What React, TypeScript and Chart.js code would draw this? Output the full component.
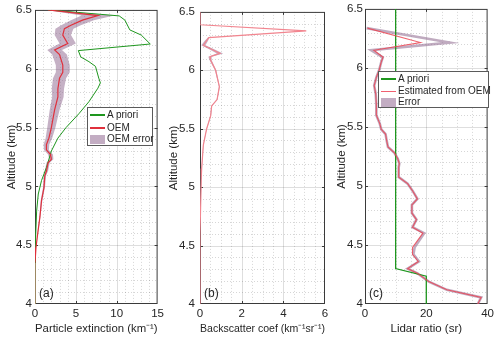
import React, { useEffect, useRef } from "react";
import { Chart, registerables } from "chart.js";
Chart.register(...registerables);

const FONT = "'Liberation Sans', Arial, Helvetica, sans-serif";
const TEXT = "#262626";
const GREEN = "#1e961e";
const RED = "#e0303c";
const PINK = "#f2858f";
const BAND = "rgba(140,100,140,0.5)";
const PATCH = "#c3adc3";

// ---- shared altitude axis ----
const altTicks = [4, 4.5, 5, 5.5, 6, 6.5];

// ---- panel (a): particle extinction ----
const aPrioriAlt = [6.5, 6.449, 6.413, 6.33, 6.286, 6.21, 6.154, 6.10, 6.06, 6.02, 5.92, 5.88, 5.835, 5.72, 5.62, 5.5, 5.41, 5.30, 5.16, 5.05, 4.935, 4.79, 4.51, 4.35, 4.0];
const aPrioriExt = [1.6, 10.3, 11.0, 11.6, 13.0, 14.1, 5.3, 5.6, 6.6, 7.4, 7.8, 8.0, 7.7, 6.6, 5.4, 3.8, 2.8, 2.0, 1.4, 0.8, 0.4, 0.2, 0.04, 0, 0];
const aOemAlt = [6.5, 6.452, 6.413, 6.37, 6.34, 6.286, 6.215, 6.16, 6.12, 6.03, 5.97, 5.92, 5.83, 5.76, 5.65, 5.5, 5.41, 5.355, 5.31, 5.27, 5.23, 5.2, 5.13, 5.09, 4.99, 4.88, 4.74, 4.57, 4.48, 4.35];
const aOemExt = [1.6, 7.7, 5.8, 4.4, 3.6, 3.4, 4.0, 2.4, 3.0, 3.4, 3.4, 3.0, 2.8, 2.8, 2.4, 2.0, 1.7, 1.4, 1.4, 1.9, 2.0, 1.6, 1.4, 1.2, 1.1, 0.8, 0.6, 0.28, 0.12, 0];
const aOemErr = [0.3, 2.0, 1.4, 1.2, 1.1, 1.0, 1.0, 0.9, 0.9, 0.85, 0.85, 0.8, 0.75, 0.7, 0.6, 0.5, 0.4, 0.35, 0.3, 0.3, 0.25, 0.2, 0.2, 0.15, 0.12, 0.1, 0.06, 0.03, 0.02, 0];
const aTailAlt = [4.35, 4.0];
const aTailExt = [0, 0];

// ---- panel (b): backscatter coefficient ----
const bAlt = [6.5, 6.39, 6.337, 6.28, 6.25, 6.215, 6.18, 6.145, 6.117, 6.09, 6.0, 5.86, 5.75, 5.695, 5.61, 5.5, 5.36, 5.16, 5.07, 4.6, 4.0];
const bVal = [0, 0, 5.1, 0.42, 0.3, 0.16, 0.56, 0.96, 0.48, 0.5, 0.75, 0.93, 0.82, 0.56, 0.51, 0.32, 0.16, 0.08, 0.06, 0, 0];
const bErr = [0, 0, 0, 0.04, 0.08, 0.1, 0.12, 0.15, 0.08, 0.05, 0.03, 0.02, 0.02, 0.02, 0.02, 0.01, 0.01, 0.01, 0.01, 0, 0];

// ---- panel (c): lidar ratio ----
const cPrioriAlt = [6.5, 4.3, 4.236, 4.0];
const cPrioriVal = [10, 10, 20, 20];
const cAlt = [6.337, 6.215, 6.15, 6.09, 6.05, 5.98, 5.92, 5.85, 5.78, 5.69, 5.6, 5.53, 5.48, 5.44, 5.38, 5.33, 5.28, 5.23, 5.19, 5.16, 5.075, 5.02, 4.96, 4.89, 4.84, 4.77, 4.715, 4.65, 4.6, 4.48, 4.42, 4.36, 4.30, 4.26, 4.19, 4.12, 4.056, 4.0];
const cVal = [0.8, 18.1, 2.9, 5.9, 5.3, 4.6, 3.7, 3.0, 3.5, 3.7, 3.7, 4.8, 5.3, 6.7, 7.1, 7.5, 9.6, 10.7, 11.2, 11.0, 11.0, 13.9, 15.5, 17.1, 15.3, 15.3, 16.8, 15.5, 18.9, 15.5, 15.5, 17.4, 13.9, 17.1, 20.8, 26.7, 37.9, 36.8];
const cErrPath = [0.5, 27.7, 2.0, 5.8, 5.3, 4.6, 3.7, 3.0, 3.5, 3.7, 3.7, 4.8, 5.3, 6.7, 7.1, 7.5, 9.6, 10.7, 11.2, 11.0, 11.0, 13.9, 15.5, 17.1, 15.3, 15.3, 16.8, 15.5, 19.3, 16.2, 15.8, 17.6, 13.9, 17.1, 20.8, 26.7, 37.9, 36.8];

const pts = (alt: number[], val: number[]) => alt.map((a, i) => ({ x: val[i], y: a }));
const bandPts = (alt: number[], val: number[], err: number[]) => [
  ...alt.map((a, i) => ({ x: val[i] - err[i], y: a })),
  ...alt.map((a, i) => ({ x: val[i] + err[i], y: a })).reverse(),
];

const lineDs = (data: any[], color: string, width: number, order: number) => ({
  data, borderColor: color, borderWidth: width, showLine: true, pointRadius: 0, fill: false, order,
});

const axesPlugin = {
  id: "matlabAxes",
  beforeDatasetsDraw(chart: any, _a: any, opts: any) {
    const { ctx, chartArea } = chart;
    const { left, right, top, bottom } = chartArea;
    const xs = chart.scales.x;
    const ys = chart.scales.y;
    ctx.save();
    const isMajor = (v: number, step: number, min: number) => {
      const r = (v - min) / step;
      return Math.abs(r - Math.round(r)) < 1e-6;
    };
    ctx.lineWidth = 1;
    ctx.strokeStyle = "rgba(0,0,0,0.16)";
    ctx.setLineDash([1, 2]);
    const nx = Math.round((xs.max - xs.min) / opts.xMinor);
    for (let k = 1; k < nx; k++) {
      const v = xs.min + k * opts.xMinor;
      if (isMajor(v, opts.xMajor, xs.min)) continue;
      const px = Math.round(xs.getPixelForValue(v)) + 0.5;
      ctx.beginPath(); ctx.moveTo(px, top); ctx.lineTo(px, bottom); ctx.stroke();
    }
    const ny = Math.round((ys.max - ys.min) / opts.yMinor);
    for (let k = 1; k < ny; k++) {
      const v = ys.min + k * opts.yMinor;
      if (isMajor(v, opts.yMajor, ys.min)) continue;
      const py = Math.round(ys.getPixelForValue(v)) + 0.5;
      ctx.beginPath(); ctx.moveTo(left, py); ctx.lineTo(right, py); ctx.stroke();
    }
    ctx.setLineDash([]);
    ctx.strokeStyle = "rgba(0,0,0,0.13)";
    const mx = Math.round((xs.max - xs.min) / opts.xMajor);
    for (let k = 1; k < mx; k++) {
      const px = Math.round(xs.getPixelForValue(xs.min + k * opts.xMajor)) + 0.5;
      ctx.beginPath(); ctx.moveTo(px, top); ctx.lineTo(px, bottom); ctx.stroke();
    }
    const my = Math.round((ys.max - ys.min) / opts.yMajor);
    for (let k = 1; k < my; k++) {
      const py = Math.round(ys.getPixelForValue(ys.min + k * opts.yMajor)) + 0.5;
      ctx.beginPath(); ctx.moveTo(left, py); ctx.lineTo(right, py); ctx.stroke();
    }
    ctx.strokeStyle = "#3a3a3a";
    ctx.strokeRect(left + 0.5, top + 0.5, right - left - 1, bottom - top - 1);
    const tl = 3;
    ctx.beginPath();
    for (let k = 1; k < mx; k++) {
      const px = Math.round(xs.getPixelForValue(xs.min + k * opts.xMajor)) + 0.5;
      ctx.moveTo(px, bottom); ctx.lineTo(px, bottom - tl);
      ctx.moveTo(px, top); ctx.lineTo(px, top + tl);
    }
    for (let k = 1; k < my; k++) {
      const py = Math.round(ys.getPixelForValue(ys.min + k * opts.yMajor)) + 0.5;
      ctx.moveTo(left, py); ctx.lineTo(left + tl, py);
      ctx.moveTo(right, py); ctx.lineTo(right - tl, py);
    }
    ctx.stroke();
    ctx.restore();
  },
  afterDatasetsDraw(chart: any, _a: any, opts: any) {
    const { ctx, chartArea } = chart;
    ctx.save();
    ctx.fillStyle = TEXT;
    ctx.font = `12px ${FONT}`;
    ctx.textBaseline = "middle";
    ctx.textAlign = "left";
    ctx.fillText(opts.tag, chartArea.left + 4, chartArea.bottom - 10);
    ctx.restore();
  },
};

type PanelProps = {
  left: number;
  xMin: number; xMax: number; xMajor: number; xMinor: number;
  xTitle: string; tag: string;
  yTickPad: number; yTitlePad: number;
  datasets: any[];
};

const CW = 167;
const CH = 340;
const FS = 11.5;

function Panel(p: PanelProps) {
  const ref = useRef<HTMLCanvasElement | null>(null);
  useEffect(() => {
    if (!ref.current) return;
    const chart = new Chart(ref.current, {
      type: "scatter",
      data: { datasets: p.datasets },
      plugins: [axesPlugin],
      options: {
        animation: false,
        responsive: false,
        devicePixelRatio: 1,
        events: [],
        layout: { padding: { top: 8, right: 7, left: 0, bottom: 0 } },
        plugins: {
          legend: { display: false },
          tooltip: { enabled: false },
          matlabAxes: { xMajor: p.xMajor, xMinor: p.xMinor, yMajor: 0.5, yMinor: 0.1, tag: p.tag },
        } as any,
        scales: {
          x: {
            type: "linear", position: "bottom", min: p.xMin, max: p.xMax,
            grid: { display: false, drawTicks: false },
            border: { display: false },
            ticks: { stepSize: p.xMajor, autoSkip: false, maxRotation: 0, padding: 3, color: TEXT, font: { family: FONT, size: FS }, callback: (v: any) => String(Number(v)) },
            title: { display: true, text: p.xTitle, color: TEXT, font: { family: FONT, size: FS }, padding: { top: 0, bottom: 4 } },
            afterFit: (s: any) => { s.height = 36; },
          },
          y: {
            type: "linear", position: "left", min: 4, max: 6.5,
            grid: { display: false, drawTicks: false },
            border: { display: false },
            afterBuildTicks: (s: any) => { s.ticks = altTicks.map((v) => ({ value: v })); },
            ticks: { autoSkip: false, padding: p.yTickPad, color: TEXT, font: { family: FONT, size: FS }, callback: (v: any) => String(Number(v)) },
            title: { display: true, text: "Altitude (km)", color: TEXT, font: { family: FONT, size: FS }, padding: { top: p.yTitlePad, bottom: 0 } },
            afterFit: (s: any) => { s.width = 35; },
          },
        },
      } as any,
    });
    return () => chart.destroy();
  }, []);
  return (
    <canvas
      ref={ref}
      width={CW}
      height={CH}
      style={{ position: "absolute", left: p.left, top: 0, width: CW, height: CH }}
    />
  );
}

type LegendItem = { label: string; kind: "line" | "patch"; color: string; width?: number };

function Legend(props: { left: number; top: number; width: number; height: number; rows: number[]; sampleW: number; items: LegendItem[] }) {
  const { left, top, width, height, rows, sampleW, items } = props;
  return (
    <div style={{ position: "absolute", left, top, width, height, boxSizing: "border-box", border: "1px solid #5a5a5a", background: "#fff" }}>
      {items.map((it, i) => {
        const cy = Math.round(rows[i] - top - 1);
        const w = it.width || 2;
        return (
          <React.Fragment key={i}>
            {it.kind === "line" ? (
              <div style={{ position: "absolute", left: 2, top: cy - Math.floor(w / 2), width: sampleW, height: w, background: it.color }} />
            ) : (
              <div style={{ position: "absolute", left: 2, top: cy - 4, width: sampleW, height: 9, background: it.color }} />
            )}
            <div style={{ position: "absolute", left: sampleW + 4, top: cy - 7, height: 14, lineHeight: "14px", fontSize: 10, fontFamily: FONT, color: TEXT, whiteSpace: "nowrap" }}>
              {it.label}
            </div>
          </React.Fragment>
        );
      })}
    </div>
  );
}

export default function App() {
  const dsA = [
    { ...lineDs(bandPts(aOemAlt, aOemExt, aOemErr), "rgba(0,0,0,0)", 0, 3), backgroundColor: BAND, fill: "shape" },
    lineDs(pts(aPrioriAlt, aPrioriExt), GREEN, 1, 2),
    lineDs(pts(aOemAlt, aOemExt), RED, 1.2, 1),
    lineDs(pts(aTailAlt, aTailExt), PINK, 1.2, 1),
  ];
  const dsB = [
    { ...lineDs(bandPts(bAlt, bVal, bErr), "rgba(0,0,0,0)", 0, 3), backgroundColor: BAND, fill: "shape" },
    lineDs(pts(bAlt, bVal), PINK, 1.2, 1),
  ];
  const dsC = [
    lineDs(pts(cAlt, cErrPath), "rgba(150,115,150,0.6)", 2.6, 3),
    lineDs(pts(cPrioriAlt, cPrioriVal), GREEN, 1.3, 2),
    lineDs(pts(cAlt, cVal), "rgba(235,70,85,0.85)", 1.1, 1),
  ];
  return (
    <div style={{ position: "absolute", left: 0, top: 0, width: 500, height: 340, background: "#fff", overflow: "hidden" }}>
      <Panel left={0} xMin={0} xMax={15} xMajor={5} xMinor={1} xTitle="Particle extinction (km⁻¹)" tag="(a)" yTickPad={3} yTitlePad={5} datasets={dsA} />
      <Panel left={165} xMin={0} xMax={6} xMajor={2} xMinor={0.5} xTitle="Backscatter coef (km⁻¹sr⁻¹)" tag="(b)" yTickPad={5} yTitlePad={2} datasets={dsB} />
      <Panel left={330} xMin={0} xMax={40} xMajor={20} xMinor={5} xTitle="Lidar ratio (sr)" tag="(c)" yTickPad={2} yTitlePad={5} datasets={dsC} />
      <Legend left={87} top={107} width={66} height={39} rows={[115, 127.5, 138.5]} sampleW={15} items={[
        { label: "A priori", kind: "line", color: GREEN, width: 2 },
        { label: "OEM", kind: "line", color: RED, width: 2 },
        { label: "OEM error", kind: "patch", color: PATCH },
      ]} />
      <Legend left={378} top={71} width={111} height={37} rows={[79, 90.5, 101.5]} sampleW={15} items={[
        { label: "A priori", kind: "line", color: GREEN, width: 2 },
        { label: "Estimated from OEM", kind: "line", color: "#f06070", width: 1 },
        { label: "Error", kind: "patch", color: PATCH },
      ]} />
    </div>
  );
}
